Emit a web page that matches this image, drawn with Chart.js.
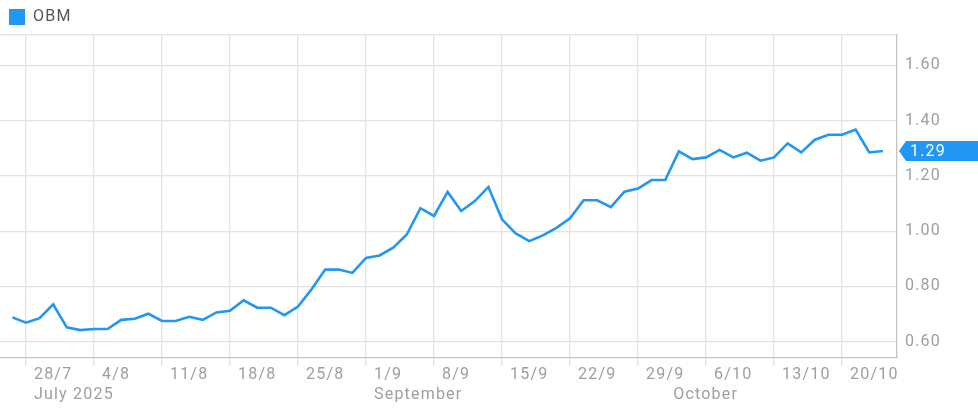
<!DOCTYPE html>
<html>
<head>
<meta charset="utf-8">
<script src="https://cdn.jsdelivr.net/npm/chart.js@4"></script>
<style>
    html, body { margin: 0; padding: 0; background: #fff; }
    #wrap { width: 978px; height: 413px; position: relative; }
</style>
</head>
<body>
<div id="wrap"><canvas id="chart"></canvas></div>
<script>
// trading days counted from Mon 28/7 (index 0); first close is Fri 25/7
const firstIndex = -1
const obm = [
    0.688, 0.669, 0.685, 0.735, 0.652, 0.642, 0.646, 0.646, 0.679, 0.683,
    0.701, 0.675, 0.675, 0.690, 0.679, 0.706, 0.712, 0.750, 0.723, 0.723,
    0.696, 0.727, 0.79, 0.861, 0.861, 0.849, 0.903, 0.912, 0.940, 0.988,
    1.083, 1.055, 1.142, 1.073, 1.109, 1.160, 1.043, 0.992, 0.964, 0.985,
    1.012, 1.047, 1.112, 1.112, 1.087, 1.143, 1.154, 1.185, 1.185, 1.289,
    1.261, 1.267, 1.294, 1.267, 1.284, 1.255, 1.267, 1.318, 1.285, 1.331,
    1.349, 1.349, 1.368, 1.285, 1.29
]

// mondays, every 5 trading days
const weekLabels = ['28/7', '4/8', '11/8', '18/8', '25/8', '1/9', '8/9', '15/9', '22/9', '29/9', '6/10', '13/10', '20/10']
const weekIndex = [0, 5, 10, 15, 20, 25, 30, 35, 40, 45, 50, 55, 60]
const monthLabels = ['July 2025', 'September', 'October']
const monthIndex = [0, 25, 47]

const yTicks = [0.6, 0.8, 1.0, 1.2, 1.4, 1.6]
const yMin = 0.541
const yMax = 1.71

const blue = '#2196f3'
const tickGray = '#9e9e9e'
const gridGray = '#e2e2e2'
const axisGray = '#c4c4c4'

const points = obm.map((v, i) => ({ x: firstIndex + i, y: v }))
const xTickValues = [...new Set([...weekIndex, ...monthIndex])].sort((a, b) => a - b)

function xLabel(value) {
    const w = weekIndex.indexOf(value)
    const m = monthIndex.indexOf(value)
    return [w >= 0 ? weekLabels[w] : '', m >= 0 ? monthLabels[m] : '']
}

const lastBadge = {
    id: 'lastBadge',
    beforeDraw(chart) {
        chart.ctx.letterSpacing = '1.2px'
    },
    afterDraw(chart) {
        const ctx = chart.ctx
        const yScale = chart.scales.y
        const last = obm[obm.length - 1]
        const y = yScale.getPixelForValue(last)
        const x0 = yScale.left + 2
        const right = chart.width
        ctx.save()
        ctx.fillStyle = blue
        ctx.beginPath()
        ctx.moveTo(x0, y)
        ctx.lineTo(x0 + 7, y - 10)
        ctx.lineTo(right, y - 10)
        ctx.lineTo(right, y + 10)
        ctx.lineTo(x0 + 7, y + 10)
        ctx.closePath()
        ctx.fill()
        ctx.fillStyle = '#fff'
        ctx.font = '16px Roboto'
        ctx.textBaseline = 'middle'
        ctx.textAlign = 'left'
        ctx.fillText(last.toFixed(2), x0 + 11, y + 1)
        ctx.restore()
    }
}

const ctx = document.getElementById('chart').getContext('2d')

const chart = new Chart(ctx, {
    type: 'line',
    data: {
        datasets: [{
            label: 'OBM',
            data: points,
            borderColor: blue,
            backgroundColor: blue,
            borderWidth: 2.6,
            pointRadius: 0,
            tension: 0
        }]
    },
    plugins: [lastBadge],
    options: {
        responsive: true,
        maintainAspectRatio: false,
        animation: false,
        layout: { padding: 0 },
        font: { family: 'Roboto', size: 16 },
        plugins: {
            tooltip: { enabled: false },
            legend: {
                position: 'top',
                align: 'start',
                labels: {
                    boxWidth: 16,
                    boxHeight: 16,
                    padding: 9,
                    color: '#555',
                    font: { family: 'Roboto', size: 16 },
                    generateLabels: (c) => Chart.defaults.plugins.legend.labels.generateLabels(c)
                        .map(l => ({ ...l, lineWidth: 0 }))
                }
            }
        },
        scales: {
            x: {
                type: 'linear',
                min: -1.91,
                max: 64.04,
                afterBuildTicks: (scale) => {
                    scale.ticks = xTickValues.map(v => ({ value: v }))
                },
                afterFit: (scale) => { scale.height = 55 },
                grid: {
                    color: (c) => (c.tick && weekIndex.includes(c.tick.value)) ? gridGray : 'rgba(0,0,0,0)',
                    tickColor: (c) => (c.tick && weekIndex.includes(c.tick.value)) ? gridGray : 'rgba(0,0,0,0)',
                    tickLength: 8,
                    lineWidth: 1.3
                },
                border: { color: axisGray, width: 1.3 },
                ticks: {
                    autoSkip: false,
                    maxRotation: 0,
                    align: 'start',
                    labelOffset: 8,
                    padding: -1,
                    color: tickGray,
                    font: { family: 'Roboto', size: 16, lineHeight: 1.25 },
                    callback: (value) => xLabel(value)
                }
            },
            y: {
                position: 'right',
                min: yMin,
                max: yMax,
                afterBuildTicks: (scale) => {
                    scale.ticks = [...yTicks, yMax].map(v => ({ value: v }))
                },
                afterFit: (scale) => { scale.width = 81 },
                grid: {
                    color: gridGray,
                    drawTicks: false,
                    lineWidth: 1.2
                },
                border: { color: axisGray, width: 1.3 },
                ticks: {
                    padding: 8,
                    color: tickGray,
                    font: { family: 'Roboto', size: 16 },
                    callback: (value) => yTicks.includes(value) ? value.toFixed(2) : ''
                }
            }
        }
    }
})
</script>
</body>
</html>
